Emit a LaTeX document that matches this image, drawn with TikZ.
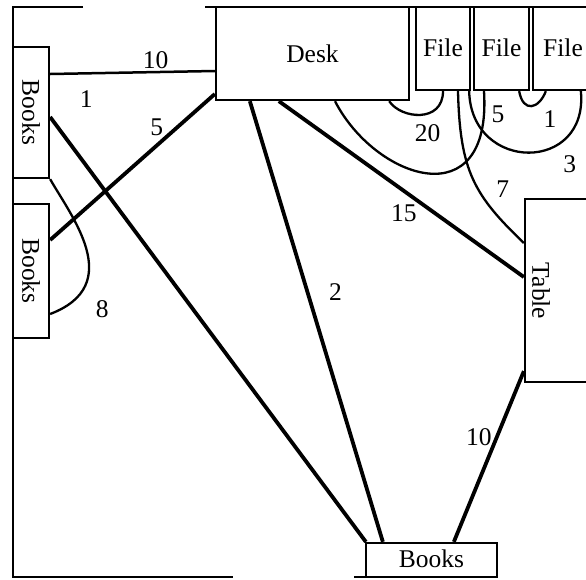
\documentclass[tikz,border=0pt]{standalone}
\usepackage{fontspec}
\setmainfont{Liberation Serif}
\begin{document}
\begin{tikzpicture}[x=1pt, y=-1pt, font=\fontsize{25.5}{30}\selectfont,
          furn/.style={draw, line width=2.3pt, inner sep=0pt},
          wall/.style={line width=2.8pt},
          link/.style={line width=3.8pt},
          thinlink/.style={line width=2.5pt},
          curvy/.style={line width=2.3pt},
          wt/.style={inner sep=0pt}]
        \useasboundingbox (0,0) rectangle (586,579);
        \draw[wall] (83,7) -- (13,7) -- (13,577) -- (233,577);
        \draw[wall] (205,7) -- (586,7);
        \draw[wall] (354,577) -- (497,577);
        \node[furn, minimum width=36, minimum height=131] (books1) at (31,112.5) {\rotatebox{-90}{Books}};
        \node[furn, minimum width=36, minimum height=134] (books2) at (31,271) {\rotatebox{-90}{Books}};
        \node[furn, minimum width=193, minimum height=93] (desk) at (312.5,53.5) {\raisebox{-2pt}{Desk}};
        \node[furn, minimum width=54, minimum height=83] (file1) at (443,48.5) {\raisebox{2pt}{File}};
        \node[furn, minimum width=55, minimum height=83] (file2) at (501.5,48.5) {\raisebox{2pt}{File}};
        \node[furn, minimum width=60, minimum height=83] (file3) at (563,48.5) {\raisebox{2pt}{File}};
        \node[furn, minimum width=80, minimum height=183] (table) at (565,290.5) {};
        \node[wt] (tablename) at (541,291) {\rotatebox{-90}{Table}};
        \node[furn, minimum width=131, minimum height=34] (bbooks) at (431.5,560) {\raisebox{2pt}{Books}};
        \draw[thinlink] ([yshift=38.5pt]books1.east) -- node[wt, pos=.64, yshift=12pt] (w1) {10} ([yshift=-17.5pt]desk.west);
        \draw[link] ([yshift=-4.5pt]books1.east) -- node[wt, pos=0, xshift=36pt, yshift=18pt] (w2) {1} ([xshift=1pt]bbooks.north west);
        \draw[link] ([yshift=31pt]books2.east) -- node[wt, pos=.647, yshift=18.5pt] (w3) {5} ([yshift=-40.5pt]desk.west);
        \draw[curvy] (books1.south east) .. controls +(21,37) and +(76,-29) .. ([yshift=-43pt]books2.east)
          node[wt, pos=1, xshift=52pt, yshift=5pt] (w4) {8};
        \draw[link] ([xshift=35pt]desk.south west) -- node[wt, pos=.433, xshift=28pt] (w5) {2} ([xshift=18pt]bbooks.north west);
        \draw[link] ([xshift=64pt]desk.south west) -- node[wt, pos=.51, yshift=-22.7pt] (w6) {15} ([yshift=13.5pt]table.west);
        \draw[link] ([yshift=12pt]table.south west) -- node[wt, pos=.387, xshift=-18pt] (w7) {10} ([xshift=89pt]bbooks.north west);
        \draw[curvy] ([yshift=47.5pt]table.west) .. controls +(-50,-48) and +(2,80) .. ([xshift=15pt]file1.south)
          node[wt, pos=0, xshift=-21pt, yshift=54pt] (w8) {7};
        \draw[curvy] ([xshift=-21pt]desk.south east) .. controls +(12,18) and +(0,32) .. (file1.south)
          node[wt, pos=.5, xshift=7pt, yshift=-18pt] (w9) {20};
        \draw[curvy] ([xshift=22.5pt]desk.south) .. controls +(40,78) and +(8,128) .. ([xshift=-17.5pt]file2.south)
          node[wt, pos=1, xshift=14pt, yshift=-23pt] (w10) {5};
        \draw[curvy] ([xshift=-2pt]file1.south east) .. controls +(2,82) and +(8,82) .. ([xshift=49pt]file3.south west)
          node[wt, pos=.5, xshift=41pt, yshift=-11.5pt] (w11) {3};
        \draw[curvy] ([xshift=-11pt]file2.south east) .. controls +(4,22) and +(-7,18) .. ([xshift=14pt]file3.south west)
          node[wt, pos=.5, xshift=18.6pt, yshift=-13pt] (w12) {1};
      \end{tikzpicture}
\end{document}
